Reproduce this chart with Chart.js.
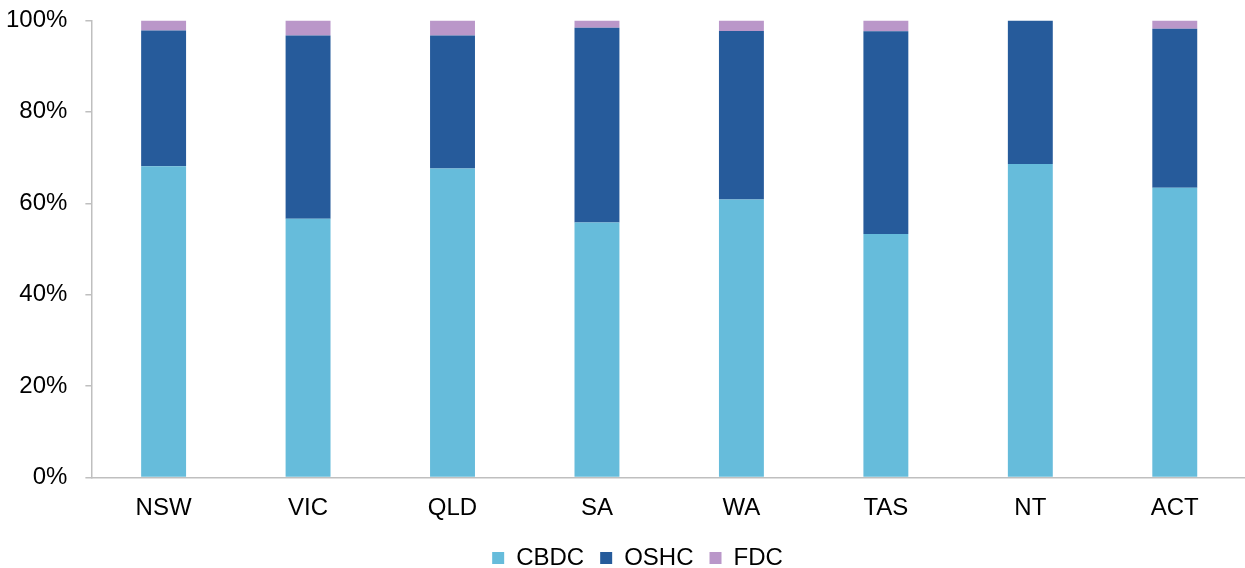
<!DOCTYPE html>
<html>
<head>
<meta charset="utf-8">
<script src="https://cdn.jsdelivr.net/npm/chart.js@4"></script>
<style>
  html, body { margin: 0; padding: 0; background: #fff; overflow: hidden; }
  #wrap { width: 1250px; height: 580px; position: relative; top: -12px; }
</style>
</head>
<body>
<div id="wrap"><canvas id="graphique"></canvas></div>
<script>
const etats = ["NSW", "VIC", "QLD", "SA", "WA", "TAS", "NT", "ACT"];
const cbdc = [68.1, 56.6, 67.6, 55.8, 60.8, 53.3, 68.6, 63.4];
const oshc = [29.7, 40.1, 29.1, 42.6, 36.9, 44.3, 31.4, 34.8];
const fdc = [2.2, 3.3, 3.3, 1.6, 2.3, 2.4, 0, 1.8];
const yTicks = [0, 20, 40, 60, 80, 100];

const police = { family: "Liberation Sans, Arial, sans-serif", size: 24 };
const gris = "#BFBFBF";

const data = {
    labels: etats,
    datasets: [
        { label: "CBDC", data: cbdc, backgroundColor: "#66BCDB" },
        { label: "OSHC", data: oshc, backgroundColor: "#265B9B" },
        { label: "FDC", data: fdc, backgroundColor: "#BA97C9" }
    ]
};

// decale la legende un peu vers la droite, comme dans l'original
const decalageLegende = {
    id: "decalageLegende",
    afterLayout(chart) {
        chart.legend.left += 20;
        chart.legend.right += 20;
    }
};

const config = {
    type: "bar",
    data: data,
    plugins: [decalageLegende],
    options: {
        responsive: true,
        maintainAspectRatio: false,
        animation: false,
        layout: { padding: { top: -1.5, left: -12, right: 3, bottom: -12 } },
        datasets: { bar: { barPercentage: 0.311, categoryPercentage: 1 } },
        plugins: {
            legend: {
                position: "bottom",
                labels: { boxWidth: 12, boxHeight: 12, padding: 16, color: "#000", font: police }
            },
            tooltip: { enabled: false }
        },
        scales: {
            x: {
                stacked: true,
                grid: { drawOnChartArea: false, drawTicks: false },
                border: { color: gris, width: 1.5 },
                ticks: { color: "#000", font: police, padding: 16 },
                afterFit: axe => { axe.height -= 8.4; }
            },
            y: {
                stacked: true,
                min: 0,
                max: 100,
                afterBuildTicks: axe => { axe.ticks = yTicks.map(v => ({ value: v })); },
                grid: { drawOnChartArea: false, drawTicks: true, tickLength: 6, color: gris, lineWidth: 1.5 },
                border: { color: gris, width: 1.5 },
                ticks: { color: "#000", font: police, padding: 18, callback: v => v + "%" }
            }
        }
    }
};

const graphique = new Chart(document.querySelector("#graphique"), config);
</script>
</body>
</html>
